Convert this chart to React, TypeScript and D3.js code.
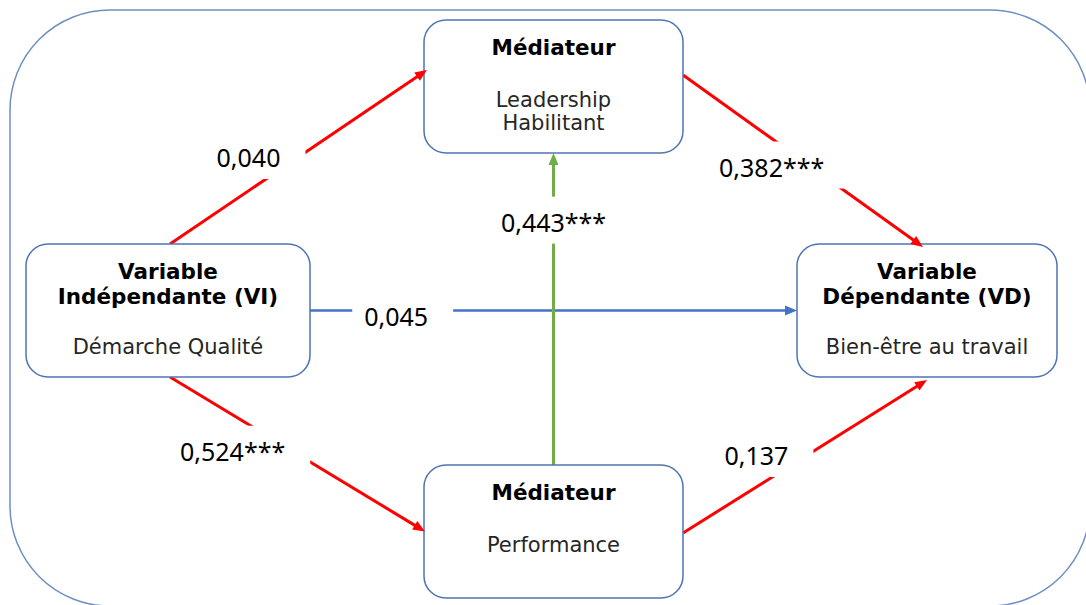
import { useEffect, useRef } from 'react';
import * as d3 from 'd3';

// nodes of the mediation model
const nodeIds = ['VI', 'M1', 'M2', 'VD'];
const nodeTitles = [['Variable', 'Indépendante (VI)'], ['Médiateur'], ['Médiateur'], ['Variable', 'Dépendante (VD)']];
const nodeSubtitles = [['Démarche Qualité'], ['Leadership', 'Habilitant'], ['Performance'], ['Bien-être au travail']];

// paths and their coefficients
const pathFrom = ['VI', 'M1', 'VI', 'M2', 'VI', 'M2'];
const pathTo = ['M1', 'VD', 'M2', 'VD', 'VD', 'M1'];
const pathCoefs = ['0,040', '0,382***', '0,524***', '0,137', '0,045', '0,443***'];
const pathKinds = ['mediator', 'mediator', 'mediator', 'mediator', 'direct', 'between'];

const W = 1086;
const H = 605;

export default function App() {
    const svgRef = useRef<SVGSVGElement>(null);

    useEffect(() => {
        document.body.style.margin = '0';
        const svg = d3.select(svgRef.current);
        svg.selectAll('*').remove();

        // grid layout of the four boxes
        const col = d3.scaleOrdinal<number, number>().domain([0, 1, 2]).range([168, 553.5, 927]);
        const row = d3.scaleOrdinal<number, number>().domain([0, 1, 2]).range([86.5, 310.5, 531.5]);
        const cell: Record<string, [number, number, number]> = { VI: [0, 1, 284], M1: [1, 0, 259], M2: [1, 2, 259], VD: [2, 1, 260] };
        const boxH = 133;
        const box = (id: string) => {
            const [c, r, w] = cell[id];
            const cx = col(c), cy = row(r);
            return { cx, cy, w, left: cx - w / 2, right: cx + w / 2, top: cy - boxH / 2, bottom: cy + boxH / 2 };
        };

        const color = d3.scaleOrdinal<string, string>()
            .domain(['mediator', 'direct', 'between'])
            .range(['#ff0000', '#4472c4', '#70ad47']);

        // anchor points on the box borders for every path
        const ends = (i: number): [[number, number], [number, number]] => {
            const a = box(pathFrom[i]), b = box(pathTo[i]);
            switch (i) {
                case 0: return [[a.cx + 2, a.top], [b.left + 3, b.cy - 16.5]];
                case 1: return [[a.right, a.cy - 11.5], [b.cx - 4, b.top + 3]];
                case 2: return [[a.cx + 2, a.bottom], [b.left + 1, b.cy]];
                case 3: return [[a.right, a.cy + 1.5], [b.cx, b.bottom + 3]];
                case 4: return [[a.right, a.cy], [b.left, b.cy]];
                default: return [[a.cx, a.top], [b.cx, b.bottom]];
            }
        };
        // where each coefficient sits: fraction along the path, x and y shift
        const labelAt: [number, number, number][] = [
            [0.5, -50, 0], [0.532, -39, 0], [0.477, -59, 0], [0.51, -51, 0], [0.177, 0, 5], [0.78, 0, 0]
        ];

        svg.attr('width', W).attr('height', H).style('display', 'block');

        // outer frame
        svg.append('rect')
            .attr('x', 10).attr('y', 10).attr('width', 1080).attr('height', 596)
            .attr('rx', 100).attr('ry', 100)
            .attr('fill', 'none').attr('stroke', '#6f8fc0').attr('stroke-width', 1.5);

        const line = d3.line();
        const paths = svg.append('g');
        const heads = [] as { tip: [number, number]; ang: number; col: string }[];
        pathCoefs.forEach((_, i) => {
            const [p0, p1] = ends(i);
            const ang = Math.atan2(p1[1] - p0[1], p1[0] - p0[0]);
            const stop: [number, number] = [p1[0] - Math.cos(ang) * 8, p1[1] - Math.sin(ang) * 8];
            paths.append('path')
                .attr('d', line([p0, stop]))
                .attr('stroke', color(pathKinds[i]))
                .attr('stroke-width', pathKinds[i] === 'direct' ? 2.6 : 3)
                .attr('fill', 'none');
            heads.push({ tip: p1, ang, col: color(pathKinds[i]) });
        });

        // coefficient labels on white patches
        const labels = svg.append('g');
        pathCoefs.forEach((coef, i) => {
            const [p0, p1] = ends(i);
            const [t, dx, dy] = labelAt[i];
            const x = p0[0] + (p1[0] - p0[0]) * t + dx;
            const y = p0[1] + (p1[1] - p0[1]) * t + dy;
            const patch = labels.append('rect').attr('fill', '#fff');
            const txt = labels.append('text')
                .attr('x', x).attr('y', y + 10)
                .attr('text-anchor', 'middle')
                .attr('font-family', '"Noto Sans", sans-serif')
                .attr('font-size', 25)
                .attr('fill', '#000')
                .text(coef);
            const bb = (txt.node() as SVGTextElement).getBBox();
            patch.attr('x', bb.x - 12).attr('width', bb.width + 37)
                .attr('y', y - 10 - 15).attr('height', 47);
        });

        // boxes
        const boxes = svg.append('g').selectAll('g').data(nodeIds).join('g');
        boxes.append('rect')
            .attr('x', d => box(d).left).attr('y', d => box(d).top)
            .attr('width', d => box(d).w).attr('height', boxH)
            .attr('rx', 22).attr('ry', 22)
            .attr('fill', '#fff').attr('stroke', '#4f74b3').attr('stroke-width', 1.5);
        boxes.each(function (d, i) {
            const b = box(d);
            const g = d3.select(this);
            const titles = nodeTitles[i], subs = nodeSubtitles[i];
            const y0 = b.top + 35;
            titles.forEach((s, k) => {
                g.append('text').attr('x', b.cx).attr('y', y0 + k * 25)
                    .attr('text-anchor', 'middle').attr('font-family', '"DejaVu Sans", Verdana, sans-serif')
                    .attr('font-weight', 'bold').attr('font-size', 21.5).attr('fill', '#000').text(s);
            });
            const y1 = titles.length === 2 ? b.top + 110 : b.top + 87;
            subs.forEach((s, k) => {
                g.append('text').attr('x', b.cx).attr('y', y1 + k * 23)
                    .attr('text-anchor', 'middle').attr('font-family', '"DejaVu Sans", Verdana, sans-serif')
                    .attr('font-size', 21).attr('fill', '#262626').text(s);
            });
        });

        // arrow heads
        svg.append('g').selectAll('path').data(heads).join('path')
            .attr('d', 'M0,0 L-12,-5 L-12,5 Z')
            .attr('transform', d => `translate(${d.tip[0]},${d.tip[1]}) rotate(${d.ang * 180 / Math.PI})`)
            .attr('fill', d => d.col);
    }, []);

    return <svg ref={svgRef} />;
}
